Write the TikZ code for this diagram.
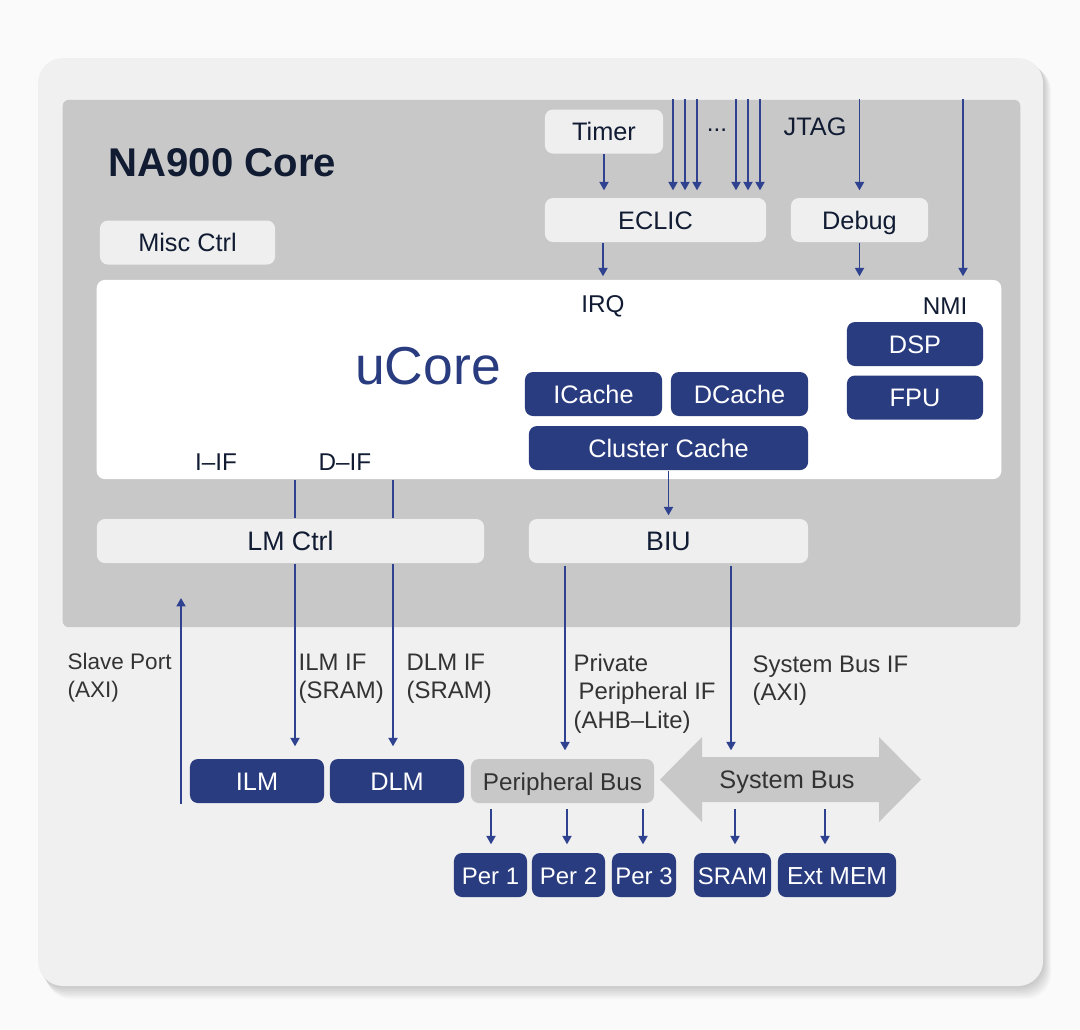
\documentclass[tikz,border=0pt]{standalone}
\usepackage{fontspec}
\setmainfont{Liberation Sans}
\usetikzlibrary{arrows.meta}

\definecolor{pagebg}{HTML}{FAFAFA}
\definecolor{cardgray}{HTML}{F0F0F0}
\definecolor{coregray}{HTML}{C8C8C8}
\definecolor{boxgray}{HTML}{EFEFEF}
\definecolor{navy}{HTML}{2A3C80}
\definecolor{sigblue}{HTML}{2F4290}
\definecolor{txtdark}{HTML}{111C33}
\definecolor{txtgray}{HTML}{333333}

\tikzset{
  sig/.style={draw=sigblue, line width=0.45pt, -{Triangle[width=2.6pt,length=2.4pt]}},
  wire/.style={draw=sigblue, line width=0.45pt},
  lbox/.style={fill=boxgray, rounded corners=0.08cm, inner sep=0pt, minimum height=0.44cm,
    text=txtdark, text height=5.2pt, text depth=0pt, font=\fontsize{7.2}{8}\selectfont},
  nbox/.style={fill=navy, rounded corners=0.08cm, inner sep=0pt, minimum height=0.44cm,
    text=white, text height=5.2pt, text depth=0pt, font=\fontsize{7.2}{8}\selectfont},
  tag/.style={text=txtdark, inner sep=0pt, font=\fontsize{6.9}{8}\selectfont},
  lbl/.style={text=txtgray, inner sep=0pt, anchor=north west, align=left,
    font=\fontsize{6.8}{8.1}\selectfont},
}

\begin{document}
\begin{tikzpicture}[x=0.01cm,y=-0.01cm]
% page and card
\fill[pagebg] (0,0) rectangle (1080,1029);
\foreach \s in {1,...,8}
  \fill[black,opacity=0.022,rounded corners=0.25cm] (38+\s,58+\s) rectangle (1043+\s,986+1.6*\s);
\fill[cardgray,rounded corners=0.25cm] (38,58) rectangle (1043,986);

% core
\node[fill=coregray,rounded corners=0.06cm,inner sep=0pt,minimum width=9.57cm,minimum height=5.27cm] (core) at (541.5,363.5) {};
\node[anchor=west,inner sep=0pt,text=txtdark,font=\fontsize{11.4}{13}\selectfont\bfseries] (title) at (108,163) {NA900 Core};

\node[lbox,minimum width=1.18cm] (timer) at (604,131.5) {Timer};
\node[lbox,minimum width=2.21cm] (eclic) at (655.5,220) {ECLIC};
\node[lbox,minimum width=1.37cm] (debug) at (859.5,220) {Debug};
\node[lbox,minimum width=1.75cm] (misc) at (187.5,242.5) {Misc Ctrl};
\node[tag] (dots) at (717,130) {...};
\node[tag,font=\fontsize{7.2}{8}\selectfont] (jtag) at (815,127) {JTAG};

% uCore
\node[fill=white,rounded corners=0.08cm,inner sep=0pt,minimum width=9.04cm,minimum height=1.99cm] (ucore) at (549,379.5) {};
\node[inner sep=0pt,text=navy,font=\fontsize{15.2}{17}\selectfont] (ucorename) at (428,366) {uCore};
\node[tag] (irq) at (603,306) {IRQ};
\node[tag] (nmi) at (945,306) {NMI};
\node[tag] (iif) at (216,462) {I--IF};
\node[tag] (dif) at (345,462) {D--IF};
\node[nbox,minimum width=1.37cm] (icache) at (593.5,394) {ICache};
\node[nbox,minimum width=1.37cm] (dcache) at (739.5,394) {DCache};
\node[nbox,minimum width=2.79cm] (ccache) at (668.5,448) {Cluster Cache};
\node[nbox,minimum width=1.36cm] (dsp) at (915,344) {DSP};
\node[nbox,minimum width=1.36cm] (fpu) at (915,397.5) {FPU};

\node[lbox,minimum width=3.87cm,font=\fontsize{7.6}{9}\selectfont] (lmctrl) at (290.5,541) {LM Ctrl};
\node[lbox,minimum width=2.79cm,font=\fontsize{7.6}{9}\selectfont] (biu) at (668.5,541) {BIU};

% memories and buses
\node[nbox,minimum width=1.34cm] (ilm) at (257,781) {ILM};
\node[nbox,minimum width=1.34cm] (dlm) at (397,781) {DLM};
\node[lbox,fill=coregray,minimum width=1.83cm,text=txtgray,font=\fontsize{6.9}{8}\selectfont] (pbus) at (562.5,781) {Peripheral Bus};
\fill[coregray] (660,779.5) -- (702,737) -- (702,757) -- (879,757) -- (879,737) -- (921,779.5)
  -- (879,822) -- (879,802) -- (702,802) -- (702,822) -- cycle;
\node[inner sep=0pt,minimum width=1.77cm,minimum height=0.45cm,text=txtgray,text height=5.2pt,text depth=0pt,font=\fontsize{7.2}{8}\selectfont] (sysbus) at (787,779.5) {System Bus};

\node[nbox,minimum width=0.73cm,font=\fontsize{6.8}{8}\selectfont] (per1) at (490.5,875) {Per 1};
\node[nbox,minimum width=0.73cm,font=\fontsize{6.8}{8}\selectfont] (per2) at (568.5,875) {Per 2};
\node[nbox,minimum width=0.64cm,font=\fontsize{6.8}{8}\selectfont] (per3) at (644,875) {Per 3};
\node[nbox,minimum width=0.77cm,font=\fontsize{6.8}{8}\selectfont] (sram) at (732.5,875) {SRAM};
\node[nbox,minimum width=1.18cm,font=\fontsize{7}{8}\selectfont] (extmem) at (837,875) {Ext MEM};

% interface labels
\node[lbl,font=\fontsize{6.4}{8.1}\selectfont] (slvlbl) at (67,652) {Slave Port\\(AXI)};
\node[lbl] (ilmlbl) at (298,653) {ILM IF\\(SRAM)};
\node[lbl] (dlmlbl) at (406,653) {DLM IF\\(SRAM)};
\node[lbl] (pvlbl) at (573,653) {Private\\\hspace{0.05cm}Peripheral IF\\(AHB--Lite)};
\node[lbl] (sblbl) at (752,655) {System Bus IF\\(AXI)};

% top signals
\draw[sig,shorten >=0.07cm] (timer.south) -- (timer.south |- eclic.north);
\foreach \x in {673,685,697,736,748,760}
  \draw[sig,shorten >=0.07cm] (\x,0 |- core.north) -- (\x,0 |- eclic.north);
\draw[sig,shorten >=0.07cm] (debug.north |- core.north) -- (debug.north);
\draw[sig,shorten >=0.03cm] (963,0 |- core.north) -- (963,0 |- ucore.north);
\draw[sig,shorten >=0.03cm] (603,0 |- eclic.south) -- (603,0 |- ucore.north);
\draw[sig,shorten >=0.03cm] (debug.south) -- (debug.south |- ucore.north);

% core to LM and BIU
\draw[sig,shorten >=0.03cm] (ccache.south) -- (biu.north);
\foreach \x/\m in {295/ilm,393/dlm} {
  \draw[wire] (\x,0 |- ucore.south) -- (\x,0 |- lmctrl.north);
  \draw[sig,shorten >=0.12cm] (\x,0 |- lmctrl.south) -- (\x,0 |- \m.north);
}
\coordinate (slvtop) at (181,598);
\draw[sig] (slvtop |- ilm.south) -- (slvtop);
\draw[sig,shorten <=0.02cm,shorten >=0.08cm] (565,0 |- biu.south) -- (565,0 |- pbus.north);
\draw[sig,shorten <=0.02cm,shorten >=0.06cm] (731,0 |- biu.south) -- (731,0 |- sysbus.north);

% buses to targets
\foreach \x/\p in {491/per1,567/per2,643/per3}
  \draw[sig,shorten <=0.05cm,shorten >=0.08cm] (\x,0 |- pbus.south) -- (\x,0 |- \p.north);
\foreach \x/\p in {735/sram,825/extmem}
  \draw[sig,shorten <=0.06cm,shorten >=0.08cm] (\x,0 |- sysbus.south) -- (\x,0 |- \p.north);
\end{tikzpicture}
\end{document}
